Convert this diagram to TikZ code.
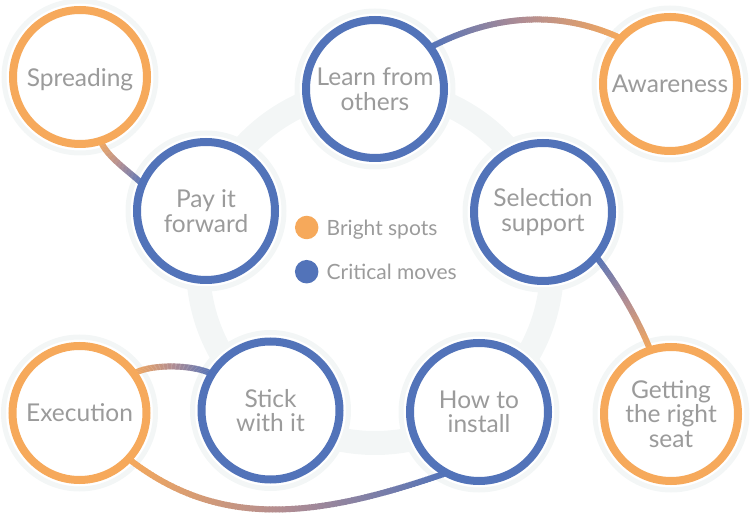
\documentclass[tikz,border=0pt]{standalone}
\usepackage{fontspec}
\setmainfont{Lato}
\usetikzlibrary{decorations.markings}
\definecolor{co}{HTML}{F6A95B}
\definecolor{cb}{HTML}{5273B9}
\definecolor{cm}{HTML}{B28D92}
\definecolor{tx}{HTML}{9B9B9B}
\definecolor{ringc}{HTML}{F3F6F6}
\pgfdeclarelayer{back}
\pgfdeclarelayer{mid}
\pgfsetlayers{back,mid,main}
\begin{document}
\begin{tikzpicture}[x=1pt,y=-1pt,
  lbl/.style={circle, fill=white, line width=8pt, outer sep=0pt, inner sep=0pt,
    align=center, text=tx, font=\fontsize{24.5}{24.5}\selectfont},
  bright/.style={lbl, draw=co, minimum size=134pt},
  crit/.style={lbl, draw=cb, minimum size=138pt},
  legdot/.style={circle, inner sep=0pt, minimum size=23.5pt},
  legtxt/.style={text=tx, font=\fontsize{21}{21}\selectfont, anchor=base west, inner sep=0pt},
  bigring/.style={draw=ringc, line width=24pt},
  glow/.style={draw=ringc, line width=5pt},
  gradline/.style={decorate, decoration={markings,
     mark=between positions 0 and 1 step 0.01 with {
       \pgfmathtruncatemacro\gpc{min(100,\pgfkeysvalueof{/pgf/decoration/mark info/sequence number}-1)}
       \ifnum\gpc<50
         \pgfmathtruncatemacro\gq{2*\gpc}\colorlet{segc}{cm!\gq!co}
       \else
         \pgfmathtruncatemacro\gq{2*\gpc-100}\colorlet{segc}{cb!\gq!cm}
       \fi
       \pgfmathsetlengthmacro\seglen{0.0065*\pgfdecoratedpathlength}
       \draw[line width=6pt, color=segc] (-\seglen,0pt) -- (\seglen,0pt);
     }}}
]
\useasboundingbox (0,0) rectangle (750,518);

% circles
\node[bright, text depth=0pt] (spread) at (80,77) {Spreading};
\node[crit] (learn) at (375,89) {Learn from\\others};
\node[bright] (aware) at (670,84) {Awareness};
\node[crit] (pay) at (206,211) {Pay it\\forward};
\node[crit] (select) at (543,212) {Selection\\support};
\node[bright] (exec) at (79.5,413) {Execution};
\node[crit] (stick) at (270.5,410.5) {Stick\\with it};
\node[crit] (how) at (479,412) {How to\\install};
\node[bright] (seat) at (671,414) {Getting\\the right\\seat};

% legend
\node[legdot, fill=co] (dotb) at (306.7,227.5) {};
\node[legtxt] (legb) at (326.5,235.7) {Bright spots};
\node[legdot, fill=cb] (dotc) at (306.7,271.7) {};
\node[legtxt] (legc) at (326.5,280) {Critical moves};

\begin{pgfonlayer}{back}
  \draw[bigring] (375,266) circle[radius=177pt];
  \foreach \n/\r in {spread/71,aware/71,exec/71,seat/71,learn/73,pay/73,select/73,stick/73,how/73}{
    \fill[white] (\n.center) circle[radius=\r pt+2.5pt];
    \draw[glow] (\n.center) circle[radius=\r pt+5pt];
  }
\end{pgfonlayer}

\begin{pgfonlayer}{mid}
  \path[gradline] (spread.-72) .. controls (105.7,155.7) and (128.5,171) .. (pay.157);
  \path[gradline] (aware.137) .. controls (560,10) and (494,14) .. (learn.37);
  \path[gradline] (seat.108) .. controls (637.4,317.8) and (617.3,284) .. (select.-40);
  \path[gradline] (exec.36) .. controls (150,364) and (192,364) .. (stick.148);
  \path[gradline] (exec.-43) .. controls (222,532) and (322,516) .. (how.-118);
\end{pgfonlayer}
\end{tikzpicture}
\end{document}
